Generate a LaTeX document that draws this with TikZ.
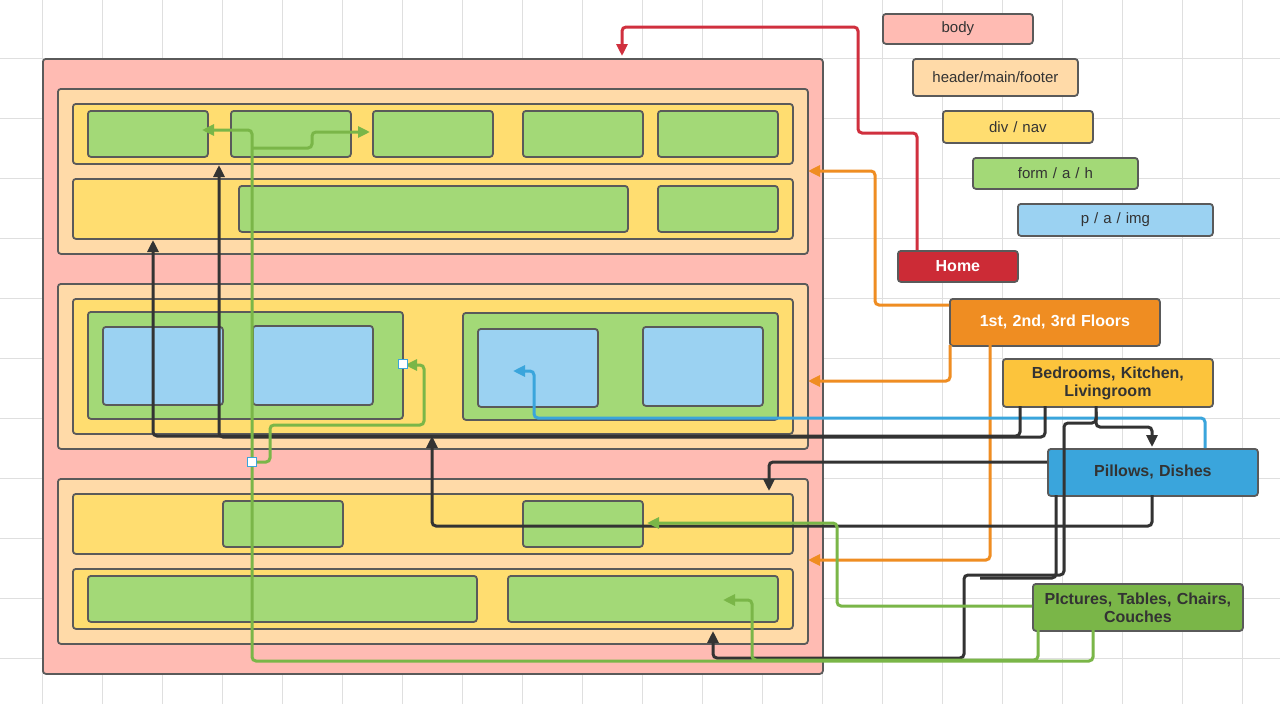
\documentclass[tikz,border=0pt]{standalone}
\usepackage{fontspec}
\setmainfont{Liberation Sans}
\usetikzlibrary{arrows.meta}
\definecolor{bodyc}{HTML}{FFBBB3}
\definecolor{hdrc}{HTML}{FFDAA8}
\definecolor{divc}{HTML}{FFDD70}
\definecolor{frmc}{HTML}{A3D977}
\definecolor{pc}{HTML}{9BD2F2}
\definecolor{edge}{HTML}{5A5A5A}
\definecolor{homec}{HTML}{CC2B36}
\definecolor{flc}{HTML}{EF8D22}
\definecolor{bedc}{HTML}{FCC43C}
\definecolor{pilc}{HTML}{3AA5DC}
\definecolor{picc}{HTML}{7AB648}
\definecolor{txt}{HTML}{333333}
\definecolor{lgreen}{HTML}{7AB648}
\definecolor{lblue}{HTML}{3AA5DC}
\definecolor{lred}{HTML}{D0303E}
\definecolor{lorange}{HTML}{EF8D22}
\definecolor{lblack}{HTML}{333333}
\newcommand{\bx}[6]{\pgfmathsetmacro\ww{#4-#2}\pgfmathsetmacro\hh{#5-#3}%
\node[box,#6,anchor=north west,minimum width=\ww pt,minimum height=\hh pt] (#1) at (#2,#3) {};}
\newcommand{\lb}[7]{\pgfmathsetmacro\ww{#4-#2}\pgfmathsetmacro\hh{#5-#3}%
\node[box,#6,anchor=north west,minimum width=\ww pt,minimum height=\hh pt,text width=\ww pt-6pt] (#1) at (#2,#3) {#7};}
\begin{document}
\begin{tikzpicture}[x=1pt,y=-1pt,
 box/.style={draw=edge,line width=1.8pt,rounded corners=3pt,inner sep=0pt,align=center},
 leg/.style={font=\fontsize{15}{17}\selectfont,text=txt},
 big/.style={font=\bfseries\fontsize{16}{20}\selectfont,text=txt},
 con/.style={line width=3pt,rounded corners=4pt,-{Triangle[length=12pt,width=11pt]}},
 hand/.style={draw=lblue,fill=white,line width=1pt,minimum size=9pt,inner sep=0pt}]
\useasboundingbox (0,0) rectangle (1280,704);
\fill[white] (0,0) rectangle (1280,704);
\foreach \x in {42,102,...,1280} \draw[gray!25,line width=1pt] (\x,0)--(\x,704);
\foreach \y in {58,118,...,704} \draw[gray!25,line width=1pt] (0,\y)--(1280,\y);
% structure
\bx{body}{42}{58}{822}{673}{fill=bodyc}
\bx{h1}{57}{88}{807}{253}{fill=hdrc}
\bx{h2}{57}{283}{807}{448}{fill=hdrc}
\bx{h3}{57}{478}{807}{643}{fill=hdrc}
\bx{d1}{72}{103}{792}{163}{fill=divc}
\bx{d2}{72}{178}{792}{238}{fill=divc}
\bx{d3}{72}{298}{792}{433}{fill=divc}
\bx{d4}{72}{493}{792}{553}{fill=divc}
\bx{d5}{72}{568}{792}{628}{fill=divc}
\bx{g1}{87}{110}{207}{156}{fill=frmc}
\bx{g2}{230}{110}{350}{156}{fill=frmc}
\bx{g3}{372}{110}{492}{156}{fill=frmc}
\bx{g4}{522}{110}{642}{156}{fill=frmc}
\bx{g5}{657}{110}{777}{156}{fill=frmc}
\bx{g6}{238}{185}{627}{231}{fill=frmc}
\bx{g7}{657}{185}{777}{231}{fill=frmc}
\bx{g8}{87}{311}{402}{418}{fill=frmc}
\bx{g9}{462}{312}{777}{419}{fill=frmc}
\bx{g10}{222}{500}{342}{546}{fill=frmc}
\bx{g11}{522}{500}{642}{546}{fill=frmc}
\bx{g12}{87}{575}{476}{621}{fill=frmc}
\bx{g13}{507}{575}{777}{621}{fill=frmc}
\bx{p1}{102}{326}{222}{404}{fill=pc}
\bx{p2}{252}{325}{372}{404}{fill=pc}
\bx{p3}{477}{328}{597}{406}{fill=pc}
\bx{p4}{642}{326}{762}{405}{fill=pc}
% legend
\lb{lbody}{882}{13}{1032}{43}{fill=bodyc,leg}{body}
\lb{lhdr}{912}{58}{1077}{95}{fill=hdrc,leg}{header/main/footer}
\lb{ldiv}{942}{110}{1092}{142}{fill=divc,leg}{div / nav}
\lb{lfrm}{972}{157}{1137}{188}{fill=frmc,leg}{form / a / h}
\lb{lp}{1017}{203}{1212}{235}{fill=pc,leg}{p / a / img}
\lb{home}{897}{250}{1017}{281}{fill=homec,big,text=white}{Home}
\lb{floors}{949}{298}{1159}{345}{fill=flc,big,text=white}{1st, 2nd, 3rd Floors}
\lb{bed}{1002}{358}{1212}{406}{fill=bedc,big}{Bedrooms, Kitchen,\\[-2pt]Livingroom}
\lb{pil}{1047}{448}{1257}{495}{fill=pilc,big}{Pillows, Dishes}
\lb{pic}{1032}{583}{1242}{630}{fill=picc,big}{PIctures, Tables, Chairs,\\[-2pt]Couches}
% red
\draw[con,lred] (home.north west)++(20,0) -- (917,133) -- (858,133) -- (858,27) -- (622,27) -- (622,56);
% orange
\draw[con,lorange] (949,305) -- (875,305) -- (875,171) -- (808,171);
\draw[con,lorange] (950,345) -- (950,381) -- (808,381);
\draw[con,lorange] (990,345) -- (990,560) -- (808,560);
% blue
\draw[con,lblue] (1205,448) -- (1205,418) -- (534,418) -- (534,371) -- (513,371);
% black
\draw[con,lblack] (1020,406) -- (1020,436) -- (153,436) -- (153,240);
\draw[con,lblack] (1045,406) -- (1045,437) -- (219,437) -- (219,165);
\draw[con,lblack] (1096,406) -- (1096,427) -- (1152,427) -- (1152,447);
\draw[con,lblack] (1047,462) -- (769,462) -- (769,491);
\draw[con,lblack] (1152,495) -- (1152,526) -- (432,526) -- (432,436);
\draw[con,lblack] (1096,420) -- (1096,423) -- (1064,423) -- (1064,575) -- (964,575) -- (964,658) -- (713,658) -- (713,631);
\draw[line width=3pt,lblack,rounded corners=4pt] (1056,495) -- (1056,578) -- (980,578);
% green
\draw[con,lgreen] (1032,606) -- (837,606) -- (837,523) -- (647,523);
\draw[con,lgreen] (1038,630) -- (1038,660) -- (752,660) -- (752,600) -- (723,600);
\draw[con,lgreen] (1093,630) -- (1093,661) -- (252,661) -- (252,130) -- (202,130);
\draw[con,lgreen] (252,148) -- (312,148) -- (312,132) -- (370,132);
\draw[con,lgreen] (252,462) -- (270,462) -- (270,425) -- (424,425) -- (424,365) -- (405,365);
\node[hand] (s1) at (252,462) {};
\node[hand] (s2) at (403,364) {};
\end{tikzpicture}
\end{document}
